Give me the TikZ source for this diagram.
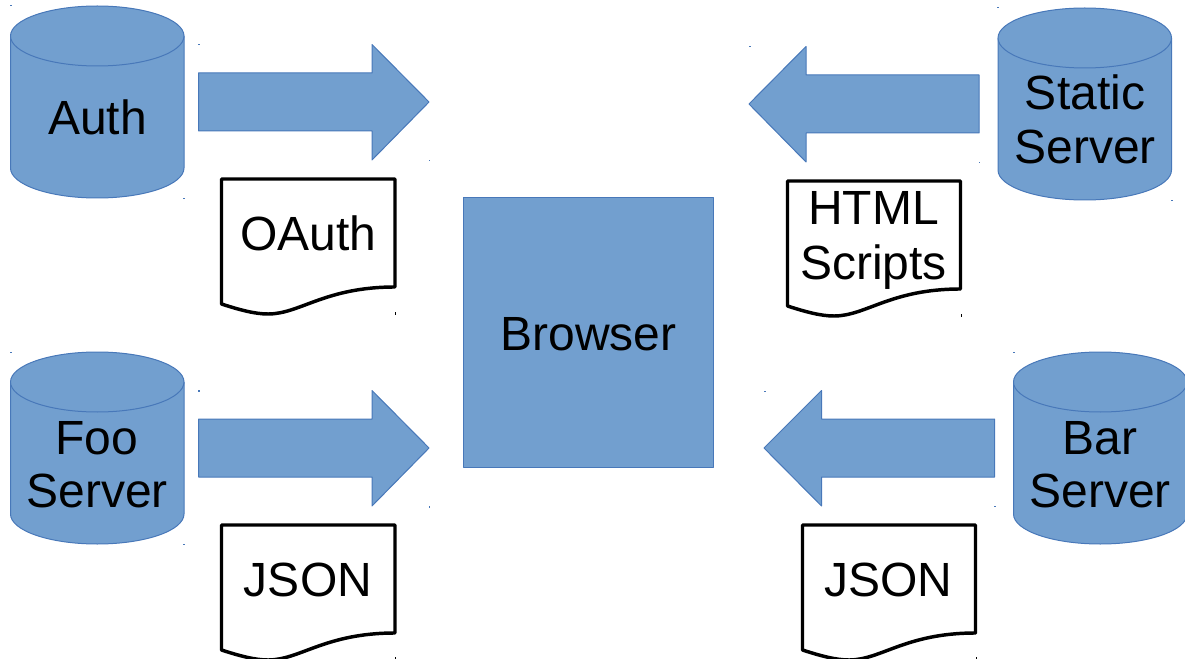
\documentclass[tikz,border=0pt]{standalone}
\usepackage{fontspec}
\setmainfont{Liberation Sans}
\usepackage{xcolor}
\usepackage{tikz}
\definecolor{shapeblue}{RGB}{114,159,207}
\definecolor{edgeblue}{RGB}{72,120,185}
\tikzset{
  solid shape/.style={draw=edgeblue,fill=shapeblue,line width=0.75pt,line join=round},
  paper/.style={draw=black,fill=white,line width=2.6pt,line join=round},
  caption/.style={inner sep=0pt,align=center,font=\fontsize{36}{40}\selectfont},
  speck/.style={fill=edgeblue},
  black speck/.style={fill=black}
}

\begin{document}
\begin{tikzpicture}[x=0.75pt,y=0.75pt,yscale=-1,xscale=1]
\clip (0,0) rectangle (1185,659);

%Shape: Cylinder Auth
\draw [solid shape] (10.5,36) -- (10.5,168) .. controls (10.5,184.6) and (49.2,198) .. (97.25,198) .. controls (145.3,198) and (184,184.6) .. (184,168) -- (184,36) -- cycle ;
\draw [solid shape] (97.25,36) ellipse [x radius=86.75,y radius=30];
%Shape: Cylinder Foo
\draw [solid shape] (10.5,382) -- (10.5,514) .. controls (10.5,530.6) and (49.2,544) .. (97.25,544) .. controls (145.3,544) and (184,530.6) .. (184,514) -- (184,382) -- cycle ;
\draw [solid shape] (97.25,382) ellipse [x radius=86.75,y radius=30];
%Shape: Cylinder Static
\draw [solid shape] (998,38) -- (998,170) .. controls (998,186.6) and (1036.7,200) .. (1084.75,200) .. controls (1132.8,200) and (1171.5,186.6) .. (1171.5,170) -- (1171.5,38) -- cycle ;
\draw [solid shape] (1084.75,38) ellipse [x radius=86.75,y radius=30];
%Shape: Cylinder Bar
\draw [solid shape] (1013.5,382) -- (1013.5,514) .. controls (1013.5,530.6) and (1052.2,544) .. (1100.25,544) .. controls (1148.3,544) and (1187,530.6) .. (1187,514) -- (1187,382) -- cycle ;
\draw [solid shape] (1100.25,382) ellipse [x radius=86.75,y radius=30];

%Shape: Right Arrow
\draw [solid shape] (198.5,73) -- (372,73) -- (372,44.5) -- (429,102) -- (372,160) -- (372,131) -- (198.5,131) -- cycle ;
%Shape: Right Arrow
\draw [solid shape] (198.5,419) -- (372,419) -- (372,390.5) -- (429,448) -- (372,506) -- (372,477) -- (198.5,477) -- cycle ;
%Shape: Left Arrow
\draw [solid shape] (979,75) -- (806,75) -- (806,46.5) -- (749,104) -- (806,162) -- (806,133) -- (979,133) -- cycle ;
%Shape: Left Arrow
\draw [solid shape] (994.5,419) -- (821.5,419) -- (821.5,390.5) -- (764,448) -- (821.5,506) -- (821.5,477) -- (994.5,477) -- cycle ;

%Shape: Rectangle
\draw [solid shape] (463,198) rectangle (713,467) ;

%Shape: Document OAuth
\draw [paper] (221.5,179) -- (395,179) -- (395,287) .. controls (325,287) and (300,314) .. (268,314) .. controls (255,314) and (240,310) .. (221.5,304) -- cycle ;
%Shape: Document HTML
\draw [paper] (787.5,181) -- (960.5,181) -- (960.5,289) .. controls (890.5,289) and (866,316) .. (834,316) .. controls (821,316) and (806,312) .. (787.5,306) -- cycle ;
%Shape: Document JSON
\draw [paper] (221.5,525) -- (395,525) -- (395,633) .. controls (325,633) and (300,660) .. (268,660) .. controls (255,660) and (240,656) .. (221.5,650) -- cycle ;
%Shape: Document JSON
\draw [paper] (802.5,525) -- (975.5,525) -- (975.5,633) .. controls (905.5,633) and (881,660) .. (849,660) .. controls (836,660) and (821,656) .. (802.5,650) -- cycle ;

%Specks
\fill [speck] (10,5.5) rectangle (12,6.5) ;
\fill [speck] (198,44) rectangle (199.5,45.5) ;
\fill [speck] (429,160) rectangle (430,161.5) ;
\fill [speck] (183,198) rectangle (185,199) ;
\fill [black speck] (395,312) rectangle (396,315) ;
\fill [speck] (10,351.5) rectangle (12,352.5) ;
\fill [speck] (198,390) rectangle (199.5,391.5) ;
\fill [speck] (429,506) rectangle (430,507.5) ;
\fill [speck] (183,544) rectangle (185,545) ;
\fill [black speck] (395,657) rectangle (396,659) ;
\fill [speck] (997,7.5) rectangle (999,8.5) ;
\fill [speck] (749,46) rectangle (750.5,47.5) ;
\fill [speck] (979,162) rectangle (980,163.5) ;
\fill [speck] (1171,200) rectangle (1173,201) ;
\fill [black speck] (961,314) rectangle (962,317) ;
\fill [speck] (1013,352) rectangle (1015,353) ;
\fill [speck] (764,390.5) rectangle (765.5,392) ;
\fill [speck] (994,506) rectangle (996,507) ;
\fill [black speck] (975.5,657) rectangle (976.5,659) ;

% Text Node
\node [caption] (authlabel) at (97.5,117.5) {Auth};
\node [caption] (foolabel) at (97,464.5) {Foo\\Server};
\node [caption] (staticlabel) at (1085,119.5) {Static\\Server};
\node [caption] (barlabel) at (1100,464.5) {Bar\\Server};
\node [caption] (browserlabel) at (588.5,334) {Browser};
\node [caption] (oauthlabel) at (308.5,233.5) {OAuth};
\node [caption] (htmllabel) at (873.5,240.5) {HTML\\[1.5pt]Scripts};
\node [caption] (jsonleftlabel) at (308,579.5) {JSON};
\node [caption] (jsonrightlabel) at (888,579.5) {JSON};

\end{tikzpicture}
\end{document}
